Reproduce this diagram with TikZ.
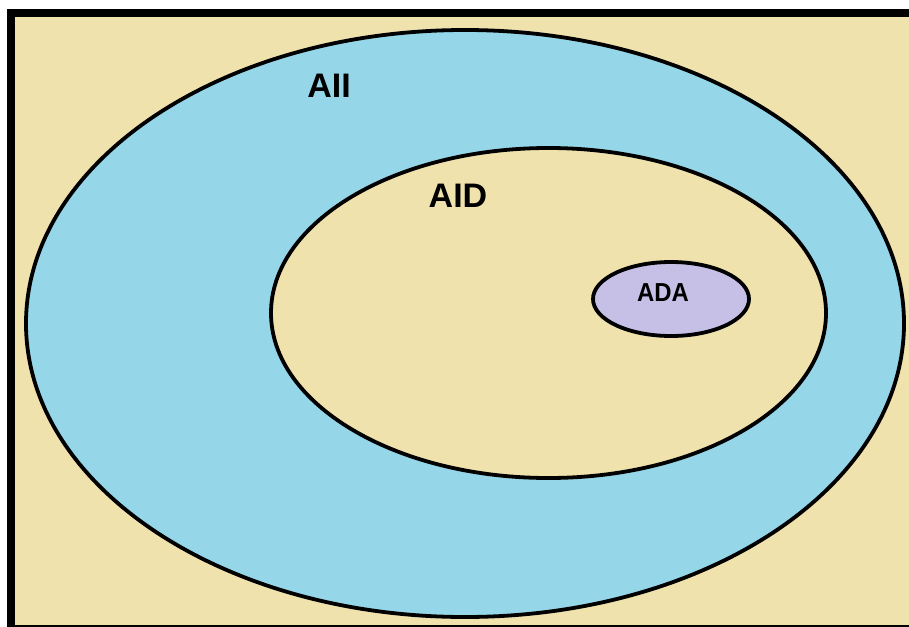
\documentclass[tikz,border=0pt]{standalone}
\usepackage{fontspec}
\setmainfont{Liberation Sans}
\definecolor{sand}{HTML}{F0E2AD}
\definecolor{sky}{HTML}{95D7E8}
\definecolor{lilac}{HTML}{C6C0E6}
\tikzset{
  setline/.style={draw=black, line width=3.8pt},
  biglabel/.style={font=\bfseries\fontsize{34}{38}\selectfont, inner sep=0pt},
  smalllabel/.style={font=\bfseries\fontsize{26}{30}\selectfont, inner sep=0pt, xscale=0.92}
}
\begin{document}
\begin{tikzpicture}[x=1pt, y=-1pt]
  \useasboundingbox (0,0) rectangle (909,626);
  \clip (0,0) rectangle (909,626);
  \fill[white] (0,0) rectangle (909,626);
  % universe frame, cut off on the right and bottom
  \draw[fill=sand, line width=8pt] (11,13) rectangle (930,629);
  % nested sets
  \draw[setline, fill=sky] (465,323.5) ellipse [x radius=439, y radius=293.5];
  \draw[setline, fill=sand] (548.5,313) ellipse [x radius=277.5, y radius=165];
  \draw[setline, fill=lilac] (671,299) ellipse [x radius=78, y radius=37];
  % labels
  \node[biglabel] (all) at (329,86) {AII};
  \node[biglabel] (aid) at (458,196) {AID};
  \node[smalllabel] (ada) at (663,293) {ADA};
\end{tikzpicture}
\end{document}
